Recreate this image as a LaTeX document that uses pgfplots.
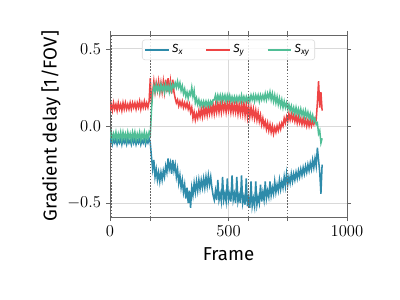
\documentclass[border=0pt]{standalone}
\usepackage{pgfplots}
\pgfplotsset{compat=1.18}
\usepackage{fontspec}
\setmainfont{Fira Sans}
\definecolor{cx}{RGB}{46,139,170}
\definecolor{cy}{RGB}{238,68,68}
\definecolor{cxy}{RGB}{80,190,150}
\begin{document}
\begin{tikzpicture}
\begin{axis}[
  at={(0,0)}, anchor=south west,
  scale only axis, width=2.37in, height=1.82in,
  xmin=0, xmax=1000, ymin=-0.59, ymax=0.59,
  xtick={0,500,1000}, ytick={-0.5,0,0.5},
  xticklabel style={/pgf/number format/.cd,set thousands separator={}},
  yticklabel style={/pgf/number format/.cd,fixed,fixed zerofill,precision=1},
  extra x ticks={172,585,749}, extra x tick labels={},
  extra x tick style={grid=none},
  tick align=outside, major tick length=3pt,
  tick style={gray!80!black, line width=0.5pt},
  axis line style={gray!80!black, line width=0.6pt},
  grid=major, grid style={gray!30, line width=0.6pt},
  ticklabel style={font=\fontsize{13}{15}\selectfont},
  label style={font=\fontsize{13.5}{15}\selectfont},
  xlabel={Frame}, ylabel={Gradient delay [1/FOV]},
  xlabel style={yshift=5pt}, ylabel style={yshift=-2pt},
  legend columns=3,
  legend style={at={(0.5,0.975)}, anchor=north, draw=gray!30, rounded corners=2pt,
    fill=white, fill opacity=0.85, text opacity=1, draw opacity=1, font=\fontsize{8.5}{10}\selectfont,
    /tikz/every even column/.append style={column sep=14pt}, inner sep=1.5pt},
  clip=true,
]
\addplot[cx, line width=1.1pt] coordinates {
(0,-0.11)(5,-0.08)(10,-0.12)(15,-0.09)(20,-0.11)(25,-0.08)(30,-0.12)(35,-0.09)(40,-0.11)(45,-0.08)
(50,-0.12)(55,-0.08)(60,-0.11)(65,-0.09)(70,-0.12)(75,-0.08)(80,-0.11)(85,-0.09)(90,-0.12)(95,-0.08)
(100,-0.11)(105,-0.08)(110,-0.12)(115,-0.09)(120,-0.11)(125,-0.08)(130,-0.12)(135,-0.09)(140,-0.11)(145,-0.08)
(150,-0.12)(155,-0.09)(160,-0.11)(165,-0.08)(170,-0.11)(175,-0.20)
(180,-0.28)(185,-0.22)(190,-0.33)(195,-0.28)(200,-0.35)(205,-0.30)(210,-0.36)(215,-0.30)(220,-0.35)(225,-0.29)
(230,-0.33)(235,-0.26)(240,-0.30)(245,-0.21)(250,-0.28)(255,-0.24)(260,-0.31)(265,-0.22)(270,-0.29)(275,-0.25)
(280,-0.33)(285,-0.28)(290,-0.37)(295,-0.32)(300,-0.40)(305,-0.35)(310,-0.43)(315,-0.38)(320,-0.47)(325,-0.40)
(330,-0.50)(335,-0.42)(340,-0.53)(345,-0.40)(350,-0.45)(355,-0.37)(360,-0.43)(365,-0.36)(370,-0.42)(375,-0.35)
(380,-0.41)(385,-0.35)(390,-0.40)(395,-0.34)(400,-0.40)(405,-0.33)(410,-0.39)(415,-0.32)(420,-0.38)(425,-0.33)
(430,-0.40)(435,-0.45)(440,-0.48)(445,-0.42)(450,-0.48)(455,-0.35)(460,-0.48)(465,-0.44)(470,-0.49)(475,-0.33)
(480,-0.48)(485,-0.44)(490,-0.49)(495,-0.34)(500,-0.48)(505,-0.44)(510,-0.49)(515,-0.32)(520,-0.48)(525,-0.44)
(530,-0.50)(535,-0.33)(540,-0.49)(545,-0.45)(550,-0.50)(555,-0.32)(560,-0.50)(565,-0.46)(570,-0.51)(575,-0.34)
(580,-0.52)(585,-0.47)(590,-0.53)(595,-0.36)(600,-0.52)(605,-0.47)(610,-0.52)(615,-0.36)(620,-0.51)(625,-0.46)
(630,-0.50)(635,-0.38)(640,-0.49)(645,-0.43)(650,-0.48)(655,-0.36)(660,-0.47)(665,-0.42)(670,-0.46)(675,-0.36)
(680,-0.45)(685,-0.40)(690,-0.44)(695,-0.36)(700,-0.43)(705,-0.38)(710,-0.42)(715,-0.35)(720,-0.41)(725,-0.36)
(730,-0.40)(735,-0.33)(740,-0.39)(745,-0.31)(750,-0.38)(755,-0.33)(760,-0.37)(765,-0.31)(770,-0.36)(775,-0.31)
(780,-0.35)(785,-0.30)(790,-0.34)(795,-0.29)(800,-0.33)(805,-0.28)(810,-0.32)(815,-0.27)(820,-0.31)(825,-0.26)
(830,-0.30)(835,-0.25)(840,-0.29)(845,-0.24)(850,-0.28)(855,-0.22)(860,-0.27)(865,-0.21)(870,-0.26)(875,-0.14)
(880,-0.22)(885,-0.30)(890,-0.44)(895,-0.25)
};
\addlegendentry{\textit{S}\textsubscript{\textit{x}}}
\addplot[cy, line width=1.1pt] coordinates {
(0,0.10)(5,0.14)(10,0.10)(15,0.15)(20,0.11)(25,0.14)(30,0.10)(35,0.15)(40,0.11)(45,0.14)
(50,0.10)(55,0.15)(60,0.11)(65,0.15)(70,0.11)(75,0.14)(80,0.11)(85,0.15)(90,0.11)(95,0.15)
(100,0.12)(105,0.15)(110,0.11)(115,0.15)(120,0.12)(125,0.16)(130,0.11)(135,0.15)(140,0.12)(145,0.16)
(150,0.12)(155,0.15)(160,0.12)(165,0.16)(170,0.31)(175,0.14)
(180,0.22)(185,0.29)(190,0.22)(195,0.28)(200,0.23)(205,0.29)(210,0.22)(215,0.28)(220,0.22)(225,0.29)
(230,0.22)(235,0.30)(240,0.22)(245,0.31)(250,0.22)(255,0.29)(260,0.21)(265,0.30)(270,0.22)(275,0.18)
(280,0.15)(285,0.17)(290,0.13)(295,0.16)(300,0.13)(305,0.16)(310,0.12)(315,0.15)(320,0.12)(325,0.15)
(330,0.11)(335,0.14)(340,0.09)(345,0.12)(350,0.05)(355,0.09)(360,0.04)(365,0.08)(370,0.05)(375,0.10)
(380,0.06)(385,0.11)(390,0.06)(395,0.12)(400,0.07)(405,0.12)(410,0.07)(415,0.13)(420,0.08)(425,0.13)
(430,0.08)(435,0.14)(440,0.08)(445,0.14)(450,0.09)(455,0.15)(460,0.09)(465,0.15)(470,0.09)(475,0.15)
(480,0.10)(485,0.15)(490,0.09)(495,0.15)(500,0.10)(505,0.15)(510,0.09)(515,0.15)(520,0.09)(525,0.14)
(530,0.09)(535,0.15)(540,0.08)(545,0.14)(550,0.08)(555,0.14)(560,0.08)(565,0.15)(570,0.07)(575,0.14)
(580,0.06)(585,0.13)(590,0.06)(595,0.12)(600,0.06)(605,0.11)(610,0.05)(615,0.10)(620,0.04)(625,0.09)
(630,0.03)(635,0.07)(640,0.01)(645,0.05)(650,0.00)(655,0.03)(660,-0.02)(665,0.02)(670,-0.03)(675,0.01)
(680,-0.04)(685,0.00)(690,-0.05)(695,-0.01)(700,-0.04)(705,0.00)(710,-0.03)(715,0.01)(720,-0.02)(725,0.02)
(730,0.00)(735,0.05)(740,0.02)(745,0.06)(750,0.03)(755,0.08)(760,0.04)(765,0.08)(770,0.04)(775,0.07)
(780,0.03)(785,0.07)(790,0.02)(795,0.06)(800,0.02)(805,0.05)(810,0.01)(815,0.05)(820,0.01)(825,0.04)
(830,0.00)(835,0.04)(840,0.00)(845,0.04)(850,0.00)(855,0.03)(860,0.01)(865,0.05)(870,0.04)(875,0.15)
(880,0.29)(885,0.12)(890,0.22)(895,0.10)
};
\addlegendentry{\textit{S}\textsubscript{\textit{y}}}
\addplot[cxy, line width=1.1pt] coordinates {
(0,-0.08)(5,-0.04)(10,-0.09)(15,-0.05)(20,-0.08)(25,-0.04)(30,-0.09)(35,-0.05)(40,-0.08)(45,-0.04)
(50,-0.09)(55,-0.04)(60,-0.08)(65,-0.05)(70,-0.09)(75,-0.04)(80,-0.08)(85,-0.05)(90,-0.09)(95,-0.04)
(100,-0.08)(105,-0.04)(110,-0.09)(115,-0.05)(120,-0.08)(125,-0.04)(130,-0.09)(135,-0.05)(140,-0.08)(145,-0.04)
(150,-0.09)(155,-0.05)(160,-0.08)(165,-0.04)(170,-0.06)(175,0.10)
(180,0.22)(185,0.26)(190,0.22)(195,0.27)(200,0.23)(205,0.26)(210,0.22)(215,0.27)(220,0.23)(225,0.26)
(230,0.22)(235,0.27)(240,0.23)(245,0.26)(250,0.22)(255,0.27)(260,0.23)(265,0.27)(270,0.25)(275,0.28)
(280,0.25)(285,0.29)(290,0.25)(295,0.28)(300,0.23)(305,0.26)(310,0.21)(315,0.24)(320,0.19)(325,0.22)
(330,0.18)(335,0.22)(340,0.20)(345,0.25)(350,0.19)(355,0.23)(360,0.15)(365,0.18)(370,0.14)(375,0.17)
(380,0.13)(385,0.16)(390,0.13)(395,0.16)(400,0.13)(405,0.16)(410,0.13)(415,0.16)(420,0.13)(425,0.16)
(430,0.14)(435,0.17)(440,0.17)(445,0.20)(450,0.16)(455,0.20)(460,0.17)(465,0.20)(470,0.16)(475,0.20)
(480,0.17)(485,0.20)(490,0.16)(495,0.20)(500,0.17)(505,0.20)(510,0.16)(515,0.19)(520,0.16)(525,0.19)
(530,0.16)(535,0.19)(540,0.16)(545,0.19)(550,0.16)(555,0.20)(560,0.16)(565,0.19)(570,0.16)(575,0.19)
(580,0.16)(585,0.19)(590,0.16)(595,0.20)(600,0.17)(605,0.20)(610,0.16)(615,0.20)(620,0.17)(625,0.20)
(630,0.16)(635,0.20)(640,0.17)(645,0.20)(650,0.17)(655,0.21)(660,0.17)(665,0.21)(670,0.18)(675,0.22)
(680,0.17)(685,0.21)(690,0.16)(695,0.20)(700,0.15)(705,0.19)(710,0.14)(715,0.18)(720,0.13)(725,0.17)
(730,0.12)(735,0.16)(740,0.12)(745,0.15)(750,0.11)(755,0.14)(760,0.10)(765,0.13)(770,0.09)(775,0.12)
(780,0.08)(785,0.12)(790,0.08)(795,0.11)(800,0.07)(805,0.11)(810,0.07)(815,0.10)(820,0.06)(825,0.10)
(830,0.06)(835,0.09)(840,0.05)(845,0.08)(850,0.04)(855,0.07)(860,0.03)(865,0.05)(870,0.01)(875,0.02)
(880,-0.05)(885,-0.03)(890,-0.11)(895,-0.08)
};
\addlegendentry{\textit{S}\textsubscript{\textit{xy}}}
\addplot[black!60, dash pattern=on 1pt off 1.2pt, line width=0.45pt, forget plot] coordinates {(5,-0.59)(5,0.59)};
\addplot[black!60, dash pattern=on 1pt off 1.2pt, line width=0.45pt, forget plot] coordinates {(172,-0.59)(172,0.59)};
\addplot[black!60, dash pattern=on 1pt off 1.2pt, line width=0.45pt, forget plot] coordinates {(585,-0.59)(585,0.59)};
\addplot[black!60, dash pattern=on 1pt off 1.2pt, line width=0.45pt, forget plot] coordinates {(749,-0.59)(749,0.59)};
\end{axis}
\path (-1.10in,-0.83in) rectangle (2.90in,2.17in);
\end{tikzpicture}
\end{document}
